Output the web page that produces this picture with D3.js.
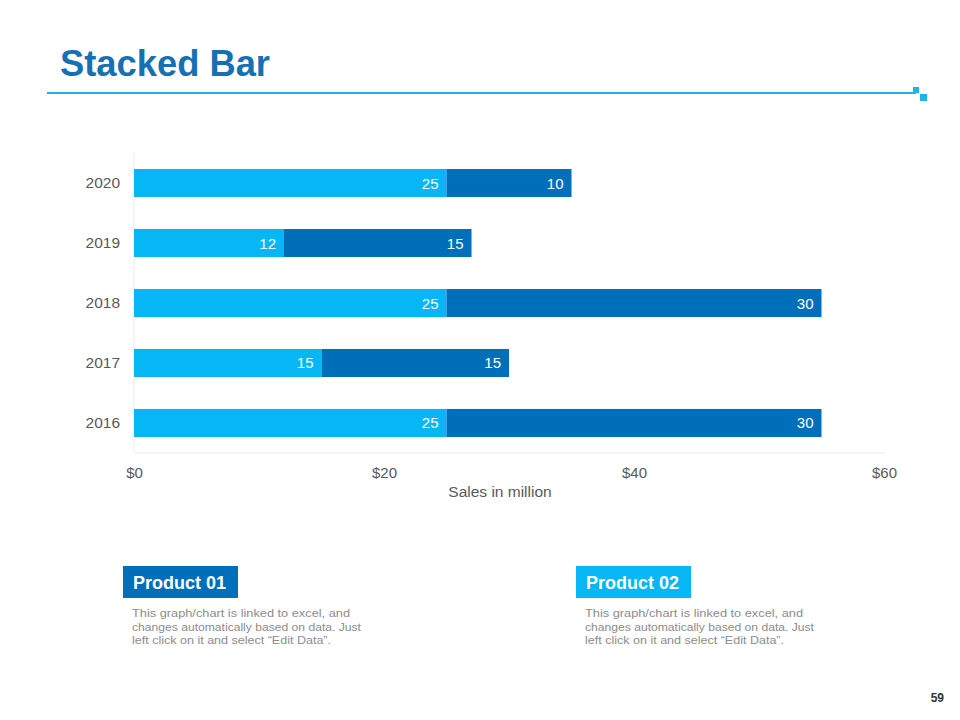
<!DOCTYPE html>
<meta charset="utf-8">
<head>
    <title>Stacked Bar</title>
    <script src="https://d3js.org/d3.v7.min.js"></script>
</head>

<style>
body { margin: 0; background: #fff; }
svg { font-family: "Liberation Sans", Arial, sans-serif; display: block; }
.axis-label { fill: #595959; }
.note { fill: #8c8c8c; font-size: 11.8px; }
</style>

<body>

<svg></svg>

<script>

// chart values
let years = ["2016", "2017", "2018", "2019", "2020"];
let product01 = [25, 15, 25, 12, 25];
let product02 = [30, 15, 30, 15, 10];
let xTicks = [0, 20, 40, 60];
let seriesNames = ["Product 01", "Product 02"];

let lightBlue = "#06b6f5";
let darkBlue = "#006fba";

let svg = d3.select("svg")
    .attr("width", 960)
    .attr("height", 720);

// title and rule
svg.append("text")
    .attr("x", 60).attr("y", 76)
    .attr("fill", "#1670b4")
    .attr("textLength", 210)
    .attr("lengthAdjust", "spacingAndGlyphs")
    .style("font-size", "37px")
    .style("font-weight", "bold")
    .text("Stacked Bar");

svg.append("line")
    .attr("x1", 47).attr("x2", 916)
    .attr("y1", 93).attr("y2", 93)
    .attr("stroke", "#1cb4e6").attr("stroke-width", 2);
svg.append("rect").attr("x", 913).attr("y", 87).attr("width", 6).attr("height", 6).attr("fill", "#1cb4e6");
svg.append("rect").attr("x", 920).attr("y", 94).attr("width", 7).attr("height", 7).attr("fill", "#1cb4e6");

// plot area
let margin = {top: 153, left: 134};
let width = 750, height = 300;

let g = svg.append("g")
    .attr("transform", "translate(" + margin.left + "," + margin.top + ")");

let x = d3.scaleLinear().domain([0, 60]).range([0, width]);
let y = d3.scaleBand().domain(years.slice().reverse()).range([0, height]).paddingInner(0.533).paddingOuter(0.267);

let rows = years.map(function(yr, i) { return {year: yr, p1: product01[i], p2: product02[i]}; });
let stacked = d3.stack().keys(["p1", "p2"])(rows);
let colors = [lightBlue, darkBlue];

// axis frame lines
g.append("line").attr("x1", 0).attr("x2", 0).attr("y1", 0).attr("y2", height)
    .attr("stroke", "#ebebeb");
g.append("line").attr("x1", 0).attr("x2", width + 2).attr("y1", height).attr("y2", height)
    .attr("stroke", "#ebebeb");

let layers = g.selectAll(".layer")
    .data(stacked)
    .enter().append("g")
    .attr("class", "layer")
    .attr("fill", function(d, i) { return colors[i]; });

layers.selectAll("rect")
    .data(function(d) { return d; })
    .enter().append("rect")
    .attr("x", function(d) { return x(d[0]); })
    .attr("y", function(d) { return y(d.data.year); })
    .attr("width", function(d) { return x(d[1]) - x(d[0]); })
    .attr("height", y.bandwidth());

layers.selectAll("text")
    .data(function(d) { return d; })
    .enter().append("text")
    .attr("x", function(d) { return x(d[1]) - 8; })
    .attr("y", function(d) { return y(d.data.year) + y.bandwidth() / 2 + 5.5; })
    .attr("text-anchor", "end")
    .attr("fill", "#fff")
    .style("font-size", "15px")
    .text(function(d) { return d[1] - d[0]; });

// y axis
let yAxis = g.append("g").call(d3.axisLeft(y).tickSize(0).tickPadding(14));
yAxis.select(".domain").remove();
yAxis.selectAll("text").attr("class", "axis-label").attr("fill", null).style("font-size", "15.5px").attr("font-family", null);

// x axis
let xAxis = g.append("g")
    .attr("transform", "translate(0," + height + ")")
    .call(d3.axisBottom(x).tickValues(xTicks).tickSize(0).tickPadding(14)
        .tickFormat(function(d) { return "$" + d; }));
xAxis.select(".domain").remove();
xAxis.selectAll("text").attr("class", "axis-label").attr("fill", null).style("font-size", "15px").attr("font-family", null);

g.append("text")
    .attr("class", "axis-label")
    .attr("x", width / 2 - 9)
    .attr("y", height + 44)
    .attr("text-anchor", "middle")
    .style("font-size", "15.5px")
    .text("Sales in million");

// product notes
let noteLines = [
    "This graph/chart is linked to excel,  and",
    "changes automatically based on data. Just",
    "left click on it and select \u201cEdit Data\u201d."
];
let boxes = [
    {name: seriesNames[0], x: 123, w: 115, color: darkBlue},
    {name: seriesNames[1], x: 576, w: 115, color: lightBlue}
];

boxes.forEach(function(b) {
    svg.append("rect")
        .attr("x", b.x).attr("y", 566)
        .attr("width", b.w).attr("height", 32)
        .attr("fill", b.color);
    svg.append("text")
        .attr("x", b.x + 10).attr("y", 589)
        .attr("fill", "#fff")
        .style("font-size", "18px")
        .style("font-weight", "bold")
        .text(b.name);
    svg.selectAll(null)
        .data(noteLines)
        .enter().append("text")
        .attr("class", "note")
        .attr("x", b.x + 9)
        .attr("y", function(d, i) { return 617 + i * 13.5; })
        .attr("textLength", function(d, i) { return [218, 229, 199][i]; })
        .attr("lengthAdjust", "spacingAndGlyphs")
        .text(function(d) { return d; });
});

// page number
svg.append("text")
    .attr("x", 944).attr("y", 702)
    .attr("text-anchor", "end")
    .attr("fill", "#333")
    .style("font-size", "12px")
    .style("font-weight", "bold")
    .text("59");

</script>

</body>
